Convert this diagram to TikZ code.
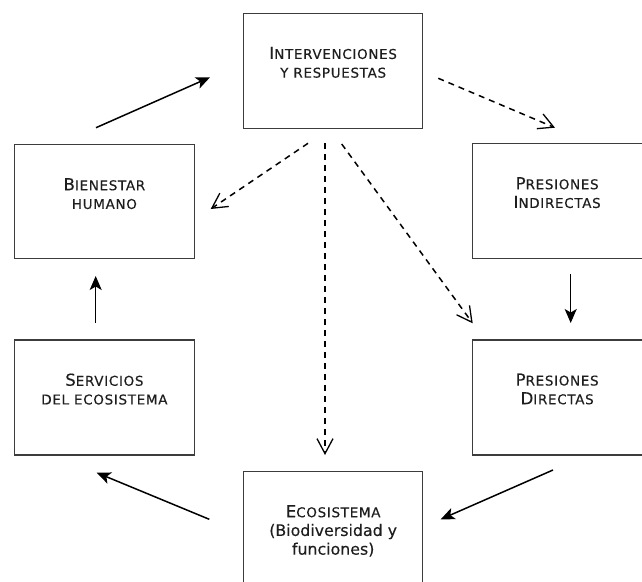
\documentclass[tikz,border=0pt]{standalone}
\usepackage{fontspec}
\setmainfont{DejaVu Sans}
\usetikzlibrary{arrows.meta}
\definecolor{boxgray}{HTML}{3C3C3C}
\definecolor{txtcol}{HTML}{1E1E1E}
\newcommand\BigL[1]{{\fontsize{16.5}{18.7}\selectfont #1}}
\newcommand\SmC[1]{{\fontsize{13.5}{18.7}\selectfont\addfontfeature{LetterSpace=5}#1}}
\begin{document}
\begin{tikzpicture}[x=1pt,y=-1pt,
  box/.style={draw=boxgray, line width=1.3pt, rectangle, inner sep=0pt, anchor=north west},
  txt/.style={align=center, inner sep=0pt, anchor=north, text=txtcol, font=\fontsize{15.8}{18.7}\selectfont\addfontfeature{FakeBold=0.3}},
  sol/.style={line width=1.5pt, -{Stealth[length=14pt,width=12pt,inset=3.5pt]}},
  dsh/.style={line width=1.5pt, dash pattern=on 6pt off 5pt, -{Straight Barb[length=15pt,width=16pt,line width=1.3pt]}}]
\useasboundingbox (0,0) rectangle (642,581);
% boxes
\node[box, minimum width=179, minimum height=115] (int) at (243,12.7) {};
\node[box, minimum width=179.5, minimum height=114] (bien) at (14,144) {};
\node[box, minimum width=170, minimum height=115] (pind) at (471.5,143) {};
\node[box, minimum width=179.5, minimum height=115] (serv) at (14,339.3) {};
\node[box, minimum width=170, minimum height=115] (pdir) at (471.5,339.3) {};
\node[box, minimum width=179, minimum height=125] (eco) at (243,471) {};
% texts
\node[txt] (intT) at ([yshift=-34pt]int.north) {\BigL{I}\SmC{NTERVENCIONES}\\\SmC{Y RESPUESTAS}};
\node[txt] (bienT) at ([yshift=-34pt]bien.north) {\BigL{B}\SmC{IENESTAR}\\\SmC{HUMANO}};
\node[txt] (pindT) at ([yshift=-34pt]pind.north) {\BigL{P}\SmC{RESIONES}\\\BigL{I}\SmC{NDIRECTAS}};
\node[txt] (servT) at ([yshift=-34pt]serv.north) {\BigL{S}\SmC{ERVICIOS}\\\SmC{DEL ECOSISTEMA}};
\node[txt] (pdirT) at ([yshift=-34pt]pdir.north) {\BigL{P}\SmC{RESIONES}\\\BigL{D}\SmC{IRECTAS}};
\node[txt] (ecoT) at ([yshift=-34pt]eco.north) {\BigL{E}\SmC{COSISTEMA}\\(Biodiversidad y\\funciones)};
% arrow end points
\coordinate (a1s) at (96,127.7);   \coordinate (a1e) at (210,77.3);
\coordinate (a2s) at (438.3,78.3); \coordinate (a2e) at (555,127.7);
\coordinate (a3s) at (308,143.3);  \coordinate (a3e) at (210.7,209);
\coordinate (a4s) at (325,143);    \coordinate (a4e) at (325,455);
\coordinate (a5s) at (341.7,144);  \coordinate (a5e) at (472.7,323.3);
\coordinate (a6s) at (570.7,274);  \coordinate (a6e) at (570.7,323);
\coordinate (a7s) at (553,470);    \coordinate (a7e) at (440.7,519.3);
\coordinate (a8s) at (209.3,519.3);\coordinate (a8e) at (96.7,472.7);
\coordinate (a9s) at (95.7,322.7); \coordinate (a9e) at (95.7,276);
% connectors
\draw[sol] (a1s) -- (a1e);
\draw[dsh] (a2s) -- (a2e);
\draw[dsh] (a3s) -- (a3e);
\draw[dsh] (a4s) -- (a4e);
\draw[dsh] (a5s) -- (a5e);
\draw[sol] (a6s) -- (a6e);
\draw[sol] (a7s) -- (a7e);
\draw[sol] (a8s) -- (a8e);
\draw[sol] (a9s) -- (a9e);
\end{tikzpicture}
\end{document}
